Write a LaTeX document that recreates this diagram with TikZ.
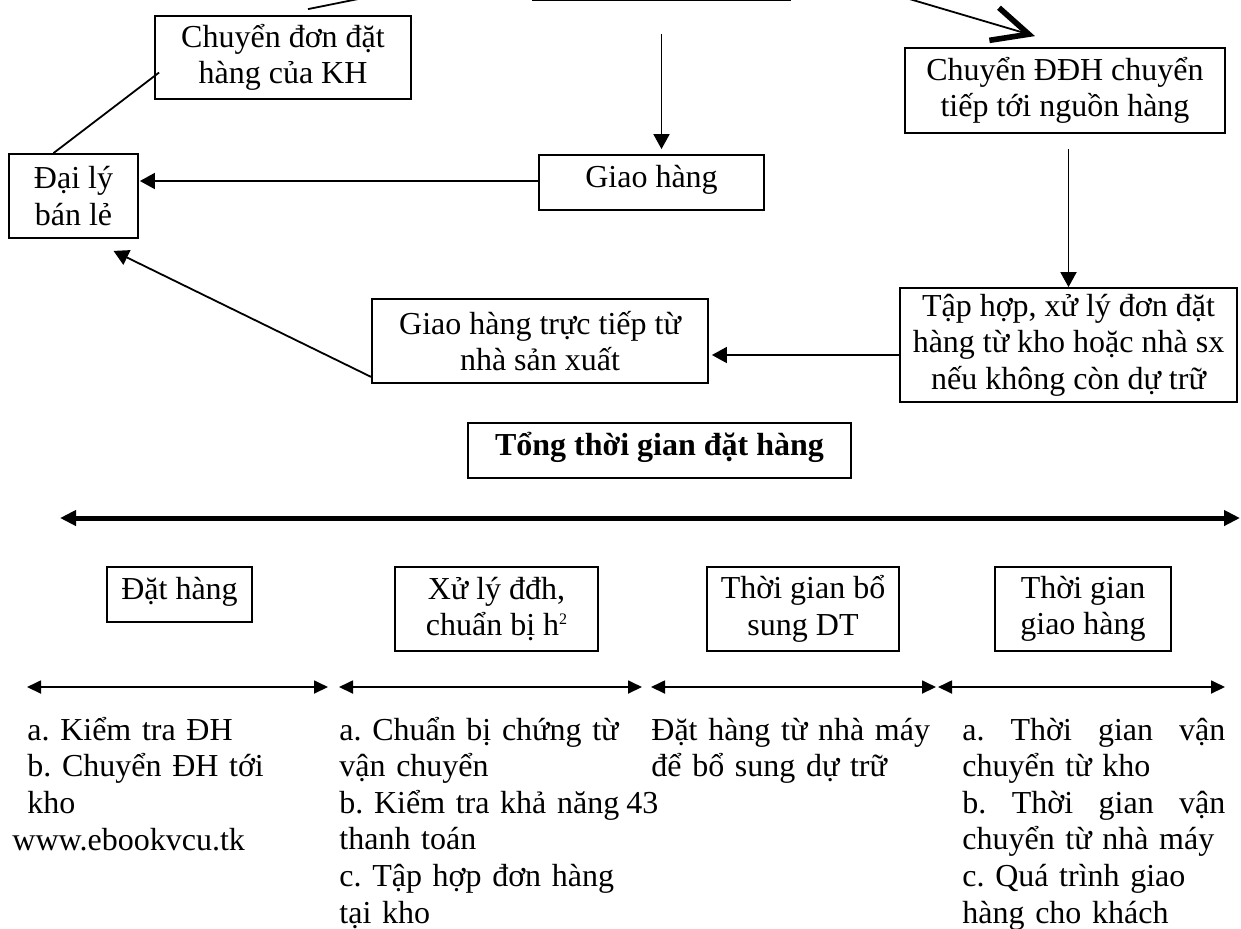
\documentclass[tikz,border=0pt]{standalone}
\usepackage{fontspec}
\setmainfont{Liberation Serif}
\usetikzlibrary{arrows.meta,calc}
\newcommand{\txt}{\fontsize{16}{18.3}\selectfont\frenchspacing}
\newcommand{\sq}{\raisebox{5.5pt}{\fontsize{8}{8}\selectfont 2}}

\begin{document}
\begin{tikzpicture}[x=0.5pt, y=-0.5pt,
  box/.style={draw, line width=0.9pt, inner sep=0pt, align=center, font=\txt},
  single/.style={text height=8pt, text depth=3pt},
  link/.style={line width=0.9pt},
  arr/.style={line width=0.9pt, -{Triangle[length=7.5pt,width=8pt]}},
  span/.style={line width=0.9pt, {Triangle[length=7pt,width=6.5pt]}-{Triangle[length=7pt,width=6.5pt]}},
  total/.style={line width=2.5pt, {Triangle[length=8pt,width=7.5pt]}-{Triangle[length=8pt,width=7.5pt]}},
  note/.style={inner sep=0pt, anchor=base west, align=left, font=\txt},
]
\useasboundingbox (0,0) rectangle (1241,928);

\node[box, minimum width=128.5pt, minimum height=36pt] (top) at (661.5,-36) {};
\node[box, minimum width=128pt, minimum height=41.5pt] (cdon) at (283,57.5) {Chuyển đơn đặt\\hàng của KH};
\node[box, minimum width=64.5pt, minimum height=42pt] (daily) at (73.5,196) {Đại lý\\bán lẻ};
\node[box, single, minimum width=112.5pt, minimum height=27.5pt] (giao) at (651.5,182.5) {Giao hàng};
\node[box, minimum width=160pt, minimum height=42.5pt] (cddh) at (1065,90.5) {Chuyển ĐĐH chuyển\\tiếp tới nguồn hàng};
\node[box, minimum width=168.5pt, minimum height=57pt] (taphop) at (1068.5,345) {Tập hợp, xử lý đơn đặt\\hàng từ kho hoặc nhà sx\\nếu không còn dự trữ};
\node[box, minimum width=168pt, minimum height=42pt] (gtt) at (540,341) {Giao hàng trực tiếp từ\\nhà sản xuất};
\node[box, single, minimum width=191.5pt, minimum height=27.5pt, font=\txt\bfseries] (tong) at (659.5,450.5) {Tổng thời gian đặt hàng};

\node[box, single, minimum width=72.5pt, minimum height=27.5pt] (dathang) at (179.5,594.5) {Đặt hàng};
\node[box, minimum width=101.5pt, minimum height=42pt] (xuly) at (496.5,609) {Xử lý đđh,\\chuẩn bị h\sq};
\node[box, minimum width=96pt, minimum height=42pt] (bosung) at (803,609) {Thời gian bổ\\sung DT};
\node[box, minimum width=88pt, minimum height=42pt] (tgiao) at (1083,609) {Thời gian\\giao hàng};

\draw[link] (top.west) -- ([xshift=12.5pt,yshift=3pt]cdon.north);
\draw[link, -{Straight Barb[length=18pt,width=17pt,line width=2.8pt]}] (top.east) -- ([xshift=-15pt,yshift=5.5pt]cddh.north);
\draw[link] ([xshift=-10pt]daily.north) -- ([xshift=2.5pt,yshift=-7.5pt]cdon.west);
\draw[arr] ([yshift=-16.5pt]top.south) -- ($(top.south |- giao.north)+(0,-5)$);
\draw[arr] ([yshift=0.75pt]giao.west) -- ($(giao.west -| daily.east)+(1,-1.5)$);
\draw[arr] ($(taphop.north |- cddh.south)+(0,15)$) -- (taphop.north);
\draw[arr] ([yshift=-5pt]taphop.west) -- ($(taphop.west -| gtt.east)+(3,10)$);
\draw[arr] ([yshift=3.5pt]gtt.south west) -- ([xshift=20pt,yshift=-6pt]daily.south);

\coordinate (tl) at (60,518);
\coordinate (tr) at (1240,518);
\draw[total] (tl) -- (tr);

\coordinate (s1) at (27,687);  \coordinate (e1) at (328,687);
\coordinate (s2) at (339,687); \coordinate (e2) at (642,687);
\coordinate (s3) at (651,687); \coordinate (e3) at (936,687);
\coordinate (s4) at (938,687); \coordinate (e4) at (1225,687);
\foreach \i in {1,...,4}
  \draw[span] (s\i) -- (e\i);

\node[note, text width=150pt] (col1) at (27,740) {a. Kiểm tra ĐH\\b. Chuyển ĐH tới\\kho};
\node[note] (web) at (12,850) {www.ebookvcu.tk};
\node[note, text width=160pt] (col2) at (339,740) {a. Chuẩn bị chứng từ\\vận chuyển\\b. Kiểm tra khả năng\\thanh toán\\c. Tập hợp đơn hàng\\tại kho};
\node[note] (page) at (626,813) {43};
\node[note, text width=150pt] (col3) at (651,740) {Đặt hàng từ nhà máy\\để bổ sung dự trữ};
\node[note, text width=131.5pt] (col4) at (962,740) {a.\hfill Thời\hfill gian\hfill vận\\chuyển từ kho\\b.\hfill Thời\hfill gian\hfill vận\\chuyển từ nhà máy\\c. Quá trình giao\\hàng cho khách};
\end{tikzpicture}
\end{document}
